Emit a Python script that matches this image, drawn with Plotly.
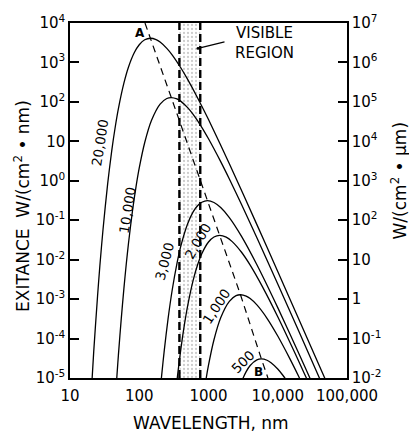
import plotly.graph_objects as go

# wavelength (nm) and spectral exitance W/(cm^2 nm)
lam_20000 = [20, 22, 25, 27, 30, 35, 40, 45, 50, 60, 70, 85, 100, 120, 145, 175, 200, 250, 300,
             400, 500, 700, 1000, 2000, 5000, 10000, 20000, 50000]
m_20000 = [2.8e-6, 4.6e-5, 1.2e-3, 7.0e-3, 5.9e-2, 0.85, 5.65, 23.1, 67.5, 298, 767, 1780, 2810,
           3755, 4110, 3800, 3300, 2280, 1540, 724, 372, 124, 35.6, 2.70, 0.0774, 5.0e-3, 3.19e-4, 8.26e-6]

lam_10000 = [45, 48, 50, 55, 60, 65, 70, 80, 90, 100, 120, 150, 200, 250, 290, 350, 400, 500, 600,
             800, 1000, 1500, 2000, 3000, 5000, 10000, 20000, 50000]
m_10000 = [2.6e-6, 1.41e-5, 3.81e-5, 3.2e-4, 1.85e-3, 7.85e-3, 2.64e-2, 0.177, 0.723, 2.11, 9.33,
           33.7, 87.9, 122, 129, 119, 103, 71.3, 48.1, 22.7, 11.6, 3.06, 1.11, 0.250, 0.0359,
           2.42e-3, 1.57e-4, 4.10e-6]

lam_3000 = [200, 210, 230, 260, 300, 350, 400, 500, 600, 700, 800, 966, 1200, 1500, 2000, 3000,
            5000, 10000, 20000, 30000, 40000]
m_3000 = [4.51e-6, 1.10e-5, 5.11e-5, 3.07e-4, 1.75e-3, 7.98e-3, 2.27e-2, 8.17e-2, 0.163, 0.236,
          0.285, 0.313, 0.281, 0.210, 0.117, 3.90e-2, 7.43e-3, 6.08e-4, 4.32e-5, 8.87e-6, 2.87e-6]

lam_2000 = [300, 330, 360, 400, 450, 500, 600, 700, 800, 1000, 1200, 1449, 1800, 2200, 3000, 4000,
            6000, 10000, 20000, 30000, 40000]
m_2000 = [5.9e-7, 3.25e-6, 1.29e-5, 5.65e-5, 2.31e-4, 6.75e-4, 2.99e-3, 7.67e-3, 1.42e-2, 2.81e-2,
          3.75e-2, 4.11e-2, 3.71e-2, 2.87e-2, 1.54e-2, 7.26e-3, 2.07e-3, 3.56e-4, 2.70e-5, 5.68e-6, 1.86e-6]

lam_1000 = [700, 800, 900, 1000, 1200, 1500, 2000, 2500, 2898, 3500, 4000, 5000, 7000, 10000,
            15000, 20000, 30000]
m_1000 = [2.64e-7, 1.77e-6, 7.23e-6, 2.11e-5, 9.33e-5, 3.37e-4, 8.79e-4, 1.22e-3, 1.29e-3, 1.19e-3,
          1.03e-3, 7.13e-4, 3.27e-4, 1.16e-4, 3.06e-5, 1.11e-5, 2.50e-6]

lam_500 = [2000, 2500, 3000, 3500, 4000, 5000, 5796, 7000, 8000, 10000, 12000, 15000, 20000]
m_500 = [5.0e-7, 2.91e-6, 7.96e-6, 1.45e-5, 2.08e-5, 2.88e-5, 3.05e-5, 2.82e-5, 2.44e-5, 1.69e-5,
         1.14e-5, 6.44e-6, 2.76e-6]

# Wien displacement line A -> B (through the peaks)
lam_wien = [121, 145, 290, 966, 1449, 2898, 5796, 7220]
m_wien = [1.0e4, 4110, 129, 0.313, 0.0411, 1.29e-3, 3.05e-5, 1.0e-5]

# visible region bounds (nm)
lam_vis = [380, 760]

# axes
y_min, y_max = 1e-5, 1e4
x_ticks = [10, 100, 1000, 10000, 100000]
x_ticktext = ["10", "100", "1000", "10,000", "100,000"]
yl_ticks = [1e4, 1e3, 1e2, 1e1, 1e0, 1e-1, 1e-2, 1e-3, 1e-4, 1e-5]
yl_text = ["10<sup>4</sup>", "10<sup>3</sup>", "10<sup>2</sup>", "10", "10<sup>0</sup>",
           "10<sup>-1</sup>", "10<sup>-2</sup>", "10<sup>-3</sup>", "10<sup>-4</sup>", "10<sup>-5</sup>"]
yr_ticks = [1e7, 1e6, 1e5, 1e4, 1e3, 1e2, 1e1, 1e0, 1e-1, 1e-2]
yr_text = ["10<sup>7</sup>", "10<sup>6</sup>", "10<sup>5</sup>", "10<sup>4</sup>", "10<sup>3</sup>",
           "10<sup>2</sup>", "10", "1", "10<sup>-1</sup>", "10<sup>-2</sup>"]

FONT = "DejaVu Sans"
fig = go.Figure()

# stippled visible band
fig.add_trace(go.Scatter(
    x=[lam_vis[0], lam_vis[1], lam_vis[1], lam_vis[0], lam_vis[0]],
    y=[y_min, y_min, y_max, y_max, y_min],
    fill="toself", mode="lines", line=dict(width=0),
    fillcolor="rgba(0,0,0,0)",
    fillpattern=dict(shape=".", fgcolor="#9a9a9a", bgcolor="white", size=4, solidity=0.25),
    hoverinfo="skip", showlegend=False))

curves = [(lam_20000, m_20000), (lam_10000, m_10000), (lam_3000, m_3000),
          (lam_2000, m_2000), (lam_1000, m_1000), (lam_500, m_500)]
for lam, m in curves:
    fig.add_trace(go.Scatter(x=lam, y=m, mode="lines",
                             line=dict(color="black", width=1.3, shape="spline", smoothing=0.8),
                             hoverinfo="skip", showlegend=False))

# Wien line
fig.add_trace(go.Scatter(x=lam_wien, y=m_wien, mode="lines",
                         line=dict(color="black", width=1.2, dash="7px,5px"),
                         hoverinfo="skip", showlegend=False))

# visible region boundaries
for lv in lam_vis:
    fig.add_trace(go.Scatter(x=[lv, lv], y=[y_min, y_max], mode="lines",
                             line=dict(color="black", width=2.4, dash="8px,4px"),
                             hoverinfo="skip", showlegend=False))

# invisible trace on the right axis (W/(cm^2 um) = 1000 x W/(cm^2 nm))
fig.add_trace(go.Scatter(x=lam_20000, y=[v * 1000 for v in m_20000], yaxis="y2", mode="lines",
                         line=dict(width=0), opacity=0, hoverinfo="skip", showlegend=False))

W, H = 409, 439
L, R, T, B = 70, 62, 15, 61
pw, ph = W - L - R, H - T - B


def px(xp):
    return (xp - L) / pw


def py(yp):
    return (H - B - yp) / ph


def note(text, xx, yy, size, angle=0, **kw):
    return dict(text=text, x=px(xx), y=py(yy), xref="paper", yref="paper", showarrow=False,
                xanchor="center", yanchor="middle", textangle=angle,
                font=dict(family=FONT, size=size, color="black"), **kw)


ann = []
labels = [("20,000", 100, 138, -81), ("10,000", 127, 207, -81), ("3,000", 164, 259, -75),
          ("2,000", 197.5, 237.5, -60), ("1,000", 216.5, 304.5, -57), ("500", 242.5, 361.5, -45)]
for t, xx, yy, a in labels:
    ann.append(note(t, xx, yy, 13.5, a))
ann.append(note("<b>A</b>", 140, 25, 12))
ann.append(note("<b>B</b>", 258, 372, 12))
ann.append(note("VISIBLE<br>REGION", 264, 35, 15, align="center"))
ann.append(dict(text="", x=px(198), y=py(41), xref="paper", yref="paper", showarrow=True,
                ax=28, ay=-7, arrowhead=6, arrowsize=0.6, arrowwidth=1.2, arrowcolor="black"))
ann.append(note("EXITANCE  W/(cm<sup>2</sup> • nm)", 22, 202, 17, -90))
ann.append(note("W/(cm<sup>2</sup> • µm)", 399, 176, 17, -90))
ann.append(note("WAVELENGTH, nm", 211, 424, 17))

axis_common = dict(showgrid=False, zeroline=False, showline=True, linecolor="black", linewidth=1.5,
                   tickfont=dict(family=FONT, size=15, color="black"))
fig.update_layout(
    width=W, height=H, margin=dict(l=L, r=R, t=T, b=B),
    paper_bgcolor="white", plot_bgcolor="white",
    font=dict(family=FONT, size=14, color="black"),
    xaxis=dict(type="log", range=[1, 5], tickvals=x_ticks, ticktext=x_ticktext,
               mirror=True, ticks="", ticklabelstandoff=3, **axis_common),
    yaxis=dict(type="log", range=[-5, 4], tickvals=yl_ticks, ticktext=yl_text,
               ticks="inside", ticklen=9, tickwidth=1.5, tickcolor="black", **axis_common),
    yaxis2=dict(type="log", range=[-2, 7], overlaying="y", side="right", anchor="x",
                tickvals=yr_ticks, ticktext=yr_text,
                ticks="inside", ticklen=9, tickwidth=1.5, tickcolor="black", **axis_common),
    annotations=ann,
    showlegend=False,
)

fig.write_html("out.html")
